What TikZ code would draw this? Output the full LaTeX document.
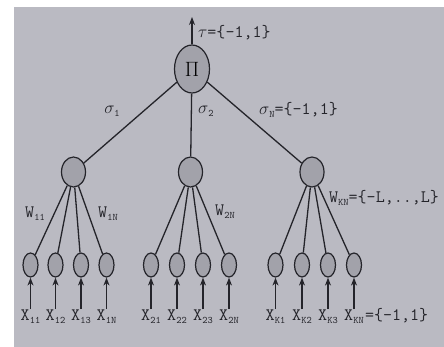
\documentclass[tikz,border=0pt]{standalone}
\usetikzlibrary{shapes.geometric,arrows.meta}
\definecolor{paper}{RGB}{186,186,194}
\definecolor{nodefill}{RGB}{162,162,170}
\definecolor{ink}{RGB}{36,36,42}
\newcommand{\lsub}[1]{\raisebox{-0.4ex}{\fontsize{10}{10}\selectfont #1}}
\begin{document}
\begin{tikzpicture}[x=1pt,y=-1pt,
  unit/.style={ellipse,draw=ink,fill=nodefill,line width=1.2pt,inner sep=0pt},
  topunit/.style={unit,minimum width=35pt,minimum height=48pt},
  midunit/.style={unit,minimum width=24pt,minimum height=30pt},
  leafunit/.style={unit,minimum width=15pt,minimum height=24pt},
  lbl/.style={text=ink,font=\ttfamily\fontsize{17.5}{17.5}\selectfont,inner sep=1pt},
  wire/.style={draw=ink,line width=1.3pt},
  inarrow/.style={wire,-{Stealth[length=8pt,width=6pt]}}]
\useasboundingbox (0,0) rectangle (444,347);
\fill[white] (0,0) rectangle (444,347);
\fill[paper] (14,7) rectangle (444,347);
% top node
\node[topunit] (top) at (192,69) {\fontsize{22}{22}\selectfont $\Pi$};
\coordinate (out) at (192,17);
\draw[inarrow] (top) -- (out);
\node[lbl,anchor=west] (tau) at (197,33) {$\tau$=\{-1,1\}};
% middle nodes
\node[midunit] (m1) at (73.5,172) {};
\node[midunit] (m2) at (190.5,172) {};
\node[midunit] (m3) at (312,172) {};
\draw[wire] (top) -- (m1);
\draw[wire] (top) -- (m2);
\draw[wire] (top) -- (m3);
\node[lbl] (s1) at (112,111) {$\sigma$\lsub{1}};
\node[lbl,anchor=west] (s2) at (197,111) {$\sigma$\lsub{2}};
\node[lbl,anchor=west] (sn) at (258,110) {$\sigma$\lsub{N}=\{-1,1\}};
% leaves
\foreach \n/\x/\m in {11/30.5/m1,12/55.5/m1,13/81/m1,1N/106.5/m1,
                      21/151/m2,22/177/m2,23/203/m2,2N/229/m2,
                      K1/275.5/m3,K2/302/m3,K3/328/m3,KN/354/m3}{
  \node[leafunit] (l\n) at (\x,265) {};
  \draw[wire] (\m) -- (l\n);
  \node[lbl,anchor=north] (x\n) at (\x,309) {X\lsub{\n}};
  \draw[inarrow] (x\n.north) -- (l\n);
}
\node[lbl,anchor=base west,inner sep=0pt] (xeq) at (xKN.base east) {=\{-1,1\}};
% weight labels
\node[lbl] (w11) at (35,214) {W\lsub{11}};
\node[lbl] (w1n) at (108,214) {W\lsub{1N}};
\node[lbl] (w2n) at (225,212) {W\lsub{2N}};
\node[lbl,anchor=west] (wkn) at (328,198) {W\lsub{KN}=\{-L,..,L\}};
\end{tikzpicture}
\end{document}
